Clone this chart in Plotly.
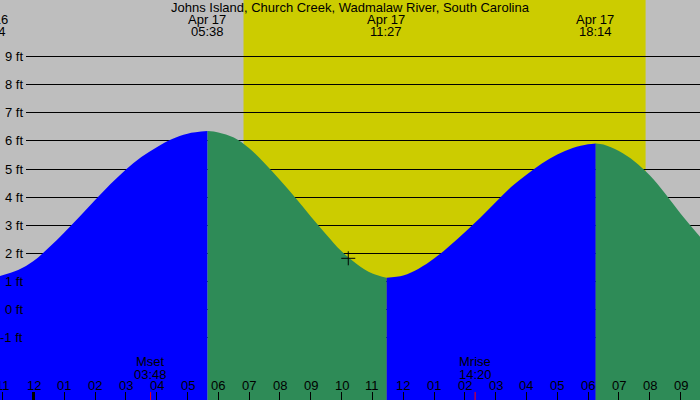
import plotly.graph_objects as go

# ---------------- data ----------------
title_text = "Johns Island, Church Creek, Wadmalaw River, South Carolina"

# tide heights (ft) at times (hours after midnight, Apr 17)
rise1_h = [-1.09, -0.5, 0.0, 0.5, 1.0, 1.5, 2.0, 2.5, 3.0, 3.5, 4.0, 4.5, 5.0, 5.65]
rise1_ft = [1.20, 1.41, 1.73, 2.21, 2.75, 3.32, 3.90, 4.47, 4.99, 5.43, 5.78, 6.07, 6.26, 6.35]
fall1_h = [5.65, 6.0, 6.5, 7.0, 7.5, 8.0, 8.5, 9.0, 9.5, 10.0, 10.5, 11.0, 11.46]
fall1_ft = [6.35, 6.30, 6.12, 5.74, 5.21, 4.61, 3.98, 3.32, 2.68, 2.08, 1.62, 1.29, 1.14]
rise2_h = [11.46, 12.0, 12.5, 13.0, 13.5, 14.0, 14.5, 15.0, 15.5, 16.0, 16.5, 17.0, 17.5, 18.0, 18.25]
rise2_ft = [1.14, 1.22, 1.46, 1.82, 2.27, 2.76, 3.27, 3.82, 4.36, 4.80, 5.20, 5.52, 5.75, 5.88, 5.91]
fall2_h = [18.25, 18.5, 19.0, 19.5, 20.0, 20.5, 21.0, 21.65]
fall2_ft = [5.91, 5.87, 5.64, 5.28, 4.78, 4.13, 3.42, 2.57]

# high / low tide labels
extreme_dates = ["Apr 16", "Apr 17", "Apr 17", "Apr 17"]
extreme_times = ["22:34", "05:38", "11:27", "18:14"]

# sun and moon
sunrise = "06:49"
sunset = "19:52"
moon_events = ["Mset", "Mrise"]
moon_times = ["03:48", "14:20"]

# current-time marker
now_time = "10:13"
now_ft = 1.83

# axis ticks
ft_ticks = [-1, 0, 1, 2, 3, 4, 5, 6, 7, 8, 9]
hour_ticks = list(range(-1, 22))
hour_labels = ["11", "12", "01", "02", "03", "04", "05", "06", "07", "08", "09",
               "10", "11", "12", "01", "02", "03", "04", "05", "06", "07", "08", "09"]

# ---------------- styling ----------------
W, H = 700, 400
GRAY = "#BEBEBE"
YELLOW = "#CCCC00"
BLUE = "#0000FF"
GREEN = "#2E8B57"
FONT = dict(family="Liberation Sans, Arial, sans-serif", size=13, color="black")

PX_PER_H = 30.81
MID_PX = 33.5
X_RANGE = [-MID_PX / PX_PER_H, (W - MID_PX) / PX_PER_H]
PX_PER_FT = 28.14
ZERO_PX = 309.8
Y_RANGE = [(ZERO_PX - H) / PX_PER_FT, ZERO_PX / PX_PER_FT]
Y_BASE = Y_RANGE[0] - 2


def to_h(t, date="Apr 17"):
    h = int(t[:2]) + int(t[3:]) / 60.0
    if date == "Apr 16":
        h -= 24
    return h


def xpaper(h):
    return (h - X_RANGE[0]) / (X_RANGE[1] - X_RANGE[0])


def ypaper_px(px):
    return 1 - px / H


def y_snap(v):
    # place a 1px line on a pixel centre, through the y scale
    span = Y_RANGE[1] - Y_RANGE[0]
    px = (Y_RANGE[1] - v) / span * H
    px = int(px) + 0.5
    return Y_RANGE[1] - px / H * span


fig = go.Figure()

segments = [(rise1_h, rise1_ft, BLUE), (fall1_h, fall1_ft, GREEN),
            (rise2_h, rise2_ft, BLUE), (fall2_h, fall2_ft, GREEN)]
for hs, fts, col in segments:
    fig.add_trace(go.Scatter(x=[hs[0], hs[-1]], y=[Y_BASE, Y_BASE], mode="lines",
                             line=dict(width=0), hoverinfo="skip", showlegend=False))
    fig.add_trace(go.Scatter(x=hs, y=fts, mode="lines", fill="tonexty", fillcolor=col,
                             line=dict(width=0, shape="spline", smoothing=1.0, color=col),
                             hoverinfo="skip", showlegend=False))

fig.add_trace(go.Scatter(x=[to_h(now_time)], y=[now_ft], mode="markers",
                         marker=dict(symbol="cross-thin", size=10, color="black",
                                     line=dict(color="black", width=1)),
                         hoverinfo="skip", showlegend=False))

shapes = []
# daylight band
shapes.append(dict(type="rect", xref="x", yref="paper", x0=to_h(sunrise), x1=to_h(sunset),
                   y0=0, y1=1, fillcolor=YELLOW, line=dict(width=0), layer="below"))
# horizontal grid lines
for v in ft_ticks:
    yv = y_snap(v)
    shapes.append(dict(type="line", xref="paper", yref="y", x0=26 / W, x1=1, y0=yv, y1=yv,
                       line=dict(color="black", width=1), layer="between"))
# midnight tick (thick)
shapes.append(dict(type="line", xref="x", yref="paper", x0=0, x1=0, y0=0, y1=8 / H,
                   line=dict(color="black", width=3), layer="above"))
# moon ticks
for t in moon_times:
    shapes.append(dict(type="line", xref="x", yref="paper", x0=to_h(t), x1=to_h(t),
                       y0=0, y1=8 / H, line=dict(color="red", width=1), layer="above"))

ann = []
ann.append(dict(text=title_text, xref="paper", yref="paper", x=0.5, y=ypaper_px(7.5),
                xanchor="center", yanchor="middle", showarrow=False, font=FONT))
for d, t in zip(extreme_dates, extreme_times):
    xp = xpaper(to_h(t, d))
    ann.append(dict(text=d, xref="paper", yref="paper", x=xp, y=ypaper_px(19.5),
                    xanchor="center", yanchor="middle", showarrow=False, font=FONT))
    ann.append(dict(text=t, xref="paper", yref="paper", x=xp, y=ypaper_px(31.5),
                    xanchor="center", yanchor="middle", showarrow=False, font=FONT))
for m, t in zip(moon_events, moon_times):
    xp = xpaper(to_h(t))
    ann.append(dict(text=m, xref="paper", yref="paper", x=xp, y=ypaper_px(361.5),
                    xanchor="center", yanchor="middle", showarrow=False, font=FONT))
    ann.append(dict(text=t, xref="paper", yref="paper", x=xp, y=ypaper_px(374),
                    xanchor="center", yanchor="middle", showarrow=False, font=FONT))
for v in ft_ticks:
    ann.append(dict(text=f"{v} ft", xref="paper", yref="y", x=24.5 / W, y=v,
                    xanchor="right", yanchor="middle", showarrow=False, font=FONT))
for h, lab in zip(hour_ticks, hour_labels):
    ann.append(dict(text=lab, xref="paper", yref="paper", x=xpaper(h), y=ypaper_px(385.5),
                    xanchor="center", yanchor="middle", showarrow=False, font=FONT))

fig.update_layout(
    width=W, height=H,
    margin=dict(l=0, r=0, t=0, b=0, pad=0),
    paper_bgcolor=GRAY, plot_bgcolor=GRAY,
    shapes=shapes, annotations=ann,
    showlegend=False,
    xaxis=dict(range=X_RANGE, showgrid=False, zeroline=False, showline=False,
               tickvals=hour_ticks, ticktext=[""] * len(hour_ticks),
               ticks="inside", ticklen=8, tickwidth=1, tickcolor="black",
               fixedrange=True),
    yaxis=dict(range=Y_RANGE, showgrid=False, zeroline=False, showline=False,
               showticklabels=False, ticks="", fixedrange=True),
)

fig.write_html("out.html", config={"displayModeBar": False},
               post_script="document.body.style.margin='0px';document.body.style.overflow='hidden';")
